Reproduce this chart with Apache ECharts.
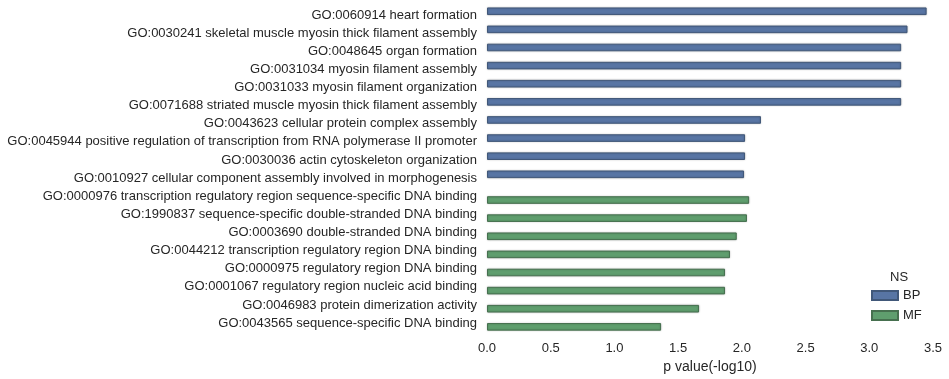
<!DOCTYPE html>
<html>
<head>
<meta charset="utf-8">
<script src="https://cdn.jsdelivr.net/npm/echarts@6/dist/echarts.min.js"></script>
<style>
html,body{margin:0;padding:0;background:#fff;}
#chart{width:949px;height:379px;}
</style>
</head>
<body>
<div id="chart"></div>
<script>
const categories = [
  "GO:0060914 heart formation",
  "GO:0030241 skeletal muscle myosin thick filament assembly",
  "GO:0048645 organ formation",
  "GO:0031034 myosin filament assembly",
  "GO:0031033 myosin filament organization",
  "GO:0071688 striated muscle myosin thick filament assembly",
  "GO:0043623 cellular protein complex assembly",
  "GO:0045944 positive regulation of transcription from RNA polymerase II promoter",
  "GO:0030036 actin cytoskeleton organization",
  "GO:0010927 cellular component assembly involved in morphogenesis",
  "GO:0000976 transcription regulatory region sequence-specific DNA binding",
  "GO:1990837 sequence-specific double-stranded DNA binding",
  "GO:0003690 double-stranded DNA binding",
  "GO:0044212 transcription regulatory region DNA binding",
  "GO:0000975 regulatory region DNA binding",
  "GO:0001067 regulatory region nucleic acid binding",
  "GO:0046983 protein dimerization activity",
  "GO:0043565 sequence-specific DNA binding"
];
const bpValues = [3.45, 3.30, 3.25, 3.25, 3.25, 3.25, 2.15, 2.025, 2.025, 2.017];
const mfValues = [2.057, 2.04, 1.96, 1.907, 1.868, 1.868, 1.664, 1.366];
const xTicks = [0.0, 0.5, 1.0, 1.5, 2.0, 2.5, 3.0, 3.5];
const seriesNames = ["BP", "MF"];

const bpData = categories.map((c, i) => i < bpValues.length ? bpValues[i] : null);
const mfData = categories.map((c, i) => i >= bpValues.length ? mfValues[i - bpValues.length] : null);

const txt = '#262626';
const font = '"Liberation Sans", Arial, sans-serif';

const chart = echarts.init(document.getElementById('chart'), null, {renderer: 'canvas'});
chart.setOption({
  animation: false,
  backgroundColor: '#ffffff',
  textStyle: {fontFamily: font, color: txt},
  title: {
    text: 'NS', left: 885, top: 266,
    textStyle: {fontSize: 13, fontWeight: 'normal', color: txt, fontFamily: font}
  },
  legend: {
    orient: 'vertical', left: 866, top: 284,
    itemWidth: 26, itemHeight: 9, itemGap: 7,
    icon: 'rect',
    data: seriesNames,
    textStyle: {fontSize: 13, color: txt, fontFamily: font, padding: [0, 0, 0, 0]}
  },
  grid: {left: 487, right: 16, top: 6, bottom: 42, containLabel: false},
  xAxis: {
    type: 'value', min: xTicks[0], max: xTicks[xTicks.length - 1], interval: 0.5,
    name: 'p value(-log10)', nameLocation: 'middle', nameGap: 27,
    nameTextStyle: {fontSize: 14, color: txt, fontFamily: font},
    axisLine: {show: false}, axisTick: {show: false}, splitLine: {show: false},
    axisLabel: {fontSize: 13, color: txt, margin: 10, formatter: v => v.toFixed(1), fontFamily: font}
  },
  yAxis: {
    type: 'category', inverse: true, data: categories,
    axisLine: {show: false}, axisTick: {show: false}, splitLine: {show: false},
    axisLabel: {fontSize: 13, color: txt, margin: 10, fontFamily: font}
  },
  series: [
    {
      name: seriesNames[0], type: 'bar', data: bpData,
      barGap: '0%', barCategoryGap: '16%',
      itemStyle: {color: '#5875a4', borderColor: '#415879', borderWidth: 1,
        shadowColor: 'rgba(0,0,0,0.22)', shadowBlur: 2}
    },
    {
      name: seriesNames[1], type: 'bar', data: mfData,
      barGap: '0%', barCategoryGap: '16%',
      itemStyle: {color: '#5f9e6e', borderColor: '#46704f', borderWidth: 1,
        shadowColor: 'rgba(0,0,0,0.22)', shadowBlur: 2}
    }
  ]
});
</script>
</body>
</html>
